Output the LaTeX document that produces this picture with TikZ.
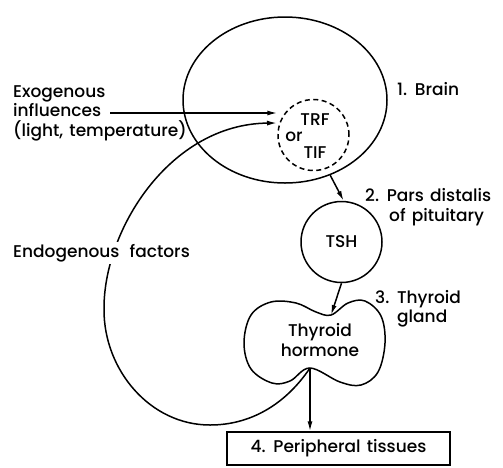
\documentclass[tikz,border=0pt]{standalone}
\usepackage{fontspec}
\setmainfont{Poppins}[UprightFont={* Medium}, WordSpace=1.4]
\usepackage{tikz}
\usetikzlibrary{arrows.meta, shapes.geometric, positioning, calc}

\tikzset{
  organ/.style={draw, line width=1.5pt, inner sep=0pt},
  arr/.style={line width=1.5pt, -{Latex[length=10pt,width=5pt]}},
  lbl/.style={font=\fontsize{17}{19.5}\selectfont, inner sep=0pt}
}

\begin{document}
\begin{tikzpicture}[x=1pt, y=-1pt]
  \useasboundingbox (0,0) rectangle (503,467);
  % organs
  \node[organ, ellipse, minimum width=204pt, minimum height=166pt] (brain) at (285,100) {};
  \node[organ, circle, dash pattern=on 5pt off 3.5pt, minimum size=71pt] (releasing) at (313.5,135) {};
  \node[lbl] (trf) at (315,120) {TRF};
  \node[lbl] (orword) at (294,137) {or};
  \node[lbl] (tif) at (315,153) {TIF};
  \node[organ, circle, minimum size=81pt, lbl] (tsh) at (341.5,242) {TSH};
  \coordinate (thytop) at (331,315);
  \coordinate (thybot) at (310,368);
  \draw[line width=1.5pt] plot[smooth cycle, tension=0.6] coordinates {
    (thytop) (348,303) (365,301) (381,316) (385,343) (378,372) (361,385)
    (340,382) (thybot) (290,381) (272,383) (251,369) (244,343) (251,315)
    (271,302) (296,303) (316,312)};
  \node[lbl, align=center] (hormone) at (320,340) {Thyroid\\hormone};
  \node[organ, rectangle, minimum width=223pt, minimum height=33pt, lbl] (tissues) at (338.5,448.5) {4. Peripheral tissues};
  % labels
  \node[lbl, anchor=west] (brainlbl) at (397,89) {1. Brain};
  \node[lbl, anchor=west, align=left] (parslbl) at (365,207) {2. Pars distalis\\\hspace*{24pt}of pituitary};
  \node[lbl, anchor=west, align=left] (thylbl) at (375,309) {3. Thyroid\\\hspace*{22pt}gland};
  \node[lbl, anchor=west, align=left] (exo) at (13,113) {Exogenous\\influences\\(light, temperature)};
  % connectors
  \coordinate (exostart) at (110,113);
  \coordinate (endoend) at (277,123);
  \draw[arr] (exostart) -- (releasing.west |- exostart);
  \draw[arr] (thybot) .. controls (285,405) and (250,425) .. (210,425)
    .. controls (150,425) and (104,370) .. (104,310)
    .. controls (103,230) and (170,124) .. (endoend);
  \draw[arr] (brain.-59) -- (tsh.87);
  \draw[arr] (tsh.south) -- (thytop);
  \draw[arr] (thybot) -- (thybot |- tissues.north);
  \node[lbl, anchor=west, fill=white, inner sep=2pt] (endo) at (11,253) {Endogenous\hspace{4pt} factors};
\end{tikzpicture}
\end{document}
